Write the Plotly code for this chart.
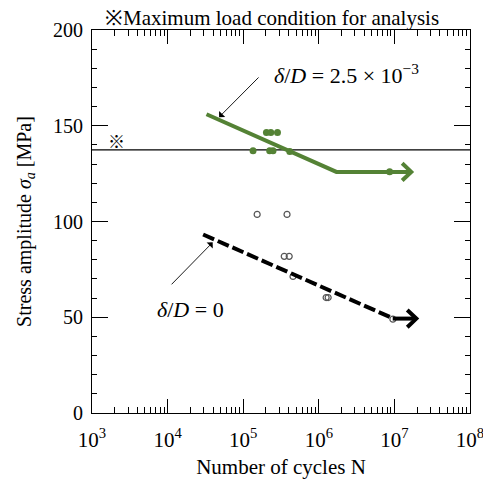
import plotly.graph_objects as go
import numpy as np

# Data
green_n = [1.35e5, 2.24e5, 2.48e5, 4.13e5, 2.03e5, 2.32e5, 2.84e5, 8.65e6]
green_s = [137, 137, 137, 136.5, 146.5, 146.5, 146.5, 126]

open_n = [1.53e5, 3.8e5, 3.49e5, 4.06e5, 4.56e5, 1.25e6, 1.33e6, 9.55e6]
open_s = [103.7, 103.7, 81.8, 81.8, 71.3, 60.3, 60.3, 49]

green_line_n = [3.27e4, 1.71e6, 1.67e7]
green_line_s = [156, 125.9, 125.9]

black_line_n = [2.95e4, 9.5e6]
black_line_s = [93.2, 49.5]
black_arrow_n = [9.5e6, 1.95e7]
black_arrow_s = [49.3, 49.3]

max_load = 137.4

x_tickvals = [1e3, 1e4, 1e5, 1e6, 1e7, 1e8]
x_ticktext = ["10<sup>3</sup>", "10<sup>4</sup>", "10<sup>5</sup>",
              "10<sup>6</sup>", "10<sup>7</sup>", "10<sup>8</sup>"]

GREEN = "#548235"
SERIF = "Liberation Serif, Times New Roman, serif"


def chevron(n_tip, s_tip, dlog=0.12, ds=4.5):
    xs = [n_tip / 10 ** dlog, n_tip, n_tip / 10 ** dlog]
    ys = [s_tip + ds, s_tip, s_tip - ds]
    return xs, ys


fig = go.Figure()

# Maximum load horizontal line
fig.add_trace(go.Scatter(x=[1e3, 1e8], y=[max_load, max_load], mode="lines",
                         line=dict(color="black", width=1.2), hoverinfo="skip"))

# Open circles (delta/D = 0)
fig.add_trace(go.Scatter(x=open_n, y=open_s, mode="markers",
                         marker=dict(symbol="circle-open", size=6, color="#555555",
                                     line=dict(width=1.2, color="#555555"))))

# Green filled dots
fig.add_trace(go.Scatter(x=green_n, y=green_s, mode="markers",
                         marker=dict(symbol="circle", size=7, color=GREEN)))

# Green S-N line
fig.add_trace(go.Scatter(x=green_line_n, y=green_line_s, mode="lines",
                         line=dict(color=GREEN, width=4)))
cx, cy = chevron(green_line_n[-1], green_line_s[-1])
fig.add_trace(go.Scatter(x=cx, y=cy, mode="lines",
                         line=dict(color=GREEN, width=4)))

# Black dashed line
fig.add_trace(go.Scatter(x=black_line_n, y=black_line_s, mode="lines",
                         line=dict(color="black", width=4, dash="12px,4px")))
fig.add_trace(go.Scatter(x=black_arrow_n, y=black_arrow_s, mode="lines",
                         line=dict(color="black", width=4)))
cx, cy = chevron(black_arrow_n[-1], black_arrow_s[-1])
fig.add_trace(go.Scatter(x=cx, y=cy, mode="lines",
                         line=dict(color="black", width=4)))

ann = []
# arrow to green line
ann.append(dict(x=np.log10(4.8e4), y=154.5, ax=np.log10(1.67e5), ay=176,
                xref="x", yref="y", axref="x", ayref="y", text="",
                showarrow=True, arrowhead=1, arrowsize=1.6, arrowwidth=0.9,
                arrowcolor="black"))
ann.append(dict(x=np.log10(2.4e5), y=177, xref="x", yref="y", xanchor="left",
                text="<i>δ</i>/<i>D</i> = 2.5 × 10<sup>−3</sup>", showarrow=False,
                font=dict(family=SERIF, size=22, color="black")))
# arrow to black line
ann.append(dict(x=np.log10(3.95e4), y=89.1, ax=np.log10(1.08e4), ay=66.4,
                xref="x", yref="y", axref="x", ayref="y", text="",
                showarrow=True, arrowhead=1, arrowsize=1.6, arrowwidth=0.9,
                arrowcolor="black"))
ann.append(dict(x=np.log10(6.8e3), y=53.8, xref="x", yref="y", xanchor="left",
                text="<i>δ</i>/<i>D</i> = 0", showarrow=False,
                font=dict(family=SERIF, size=22, color="black")))
# ※ marker
ann.append(dict(x=np.log10(2.14e3), y=142.5, xref="x", yref="y",
                text="※", showarrow=False,
                font=dict(family="Noto Sans CJK JP", size=17, color="black")))
# top title
ann.append(dict(x=0.475, y=1.0, xref="paper", yref="paper", yanchor="bottom",
                yshift=-2, text="※Maximum load condition for analysis", showarrow=False,
                font=dict(family=SERIF, size=21, color="black")))

fig.update_layout(
    width=483, height=483,
    margin=dict(l=92, r=13, t=30, b=70),
    paper_bgcolor="white", plot_bgcolor="white",
    showlegend=False,
    font=dict(family=SERIF, size=19, color="black"),
    annotations=ann,
)

fig.update_xaxes(type="log", range=[3, 8], tickvals=x_tickvals, ticktext=x_ticktext,
                 automargin=False, ticklabeloverflow="allow", ticklabelstandoff=8,
                 showgrid=False, zeroline=False, showline=True, linecolor="black",
                 linewidth=1, mirror="allticks", ticks="inside", ticklen=14,
                 tickcolor="black", tickfont=dict(family=SERIF, size=21),
                 minor=dict(ticks="inside", ticklen=6, tickcolor="black", dtick="D1",
                            showgrid=False),
                 title=dict(text="Number of cycles N", font=dict(family=SERIF, size=21),
                            standoff=8))
fig.update_yaxes(range=[0, 200], dtick=50, showgrid=False, zeroline=False,
                 automargin=False, ticklabeloverflow="allow", ticklabelstandoff=4,
                 showline=True, linecolor="black", linewidth=1, mirror="allticks",
                 ticks="inside", ticklen=16, tickcolor="black",
                 tickfont=dict(family=SERIF, size=20),
                 minor=dict(ticks="inside", ticklen=5, tickcolor="black", dtick=10,
                            showgrid=False),
                 title=dict(text="Stress amplitude <i>σ<sub>a</sub></i> [MPa]",
                            font=dict(family=SERIF, size=20), standoff=16))

fig.write_html("out.html", config={"displayModeBar": False},
               post_script="document.body.style.margin='0';document.body.style.overflow='hidden';")
